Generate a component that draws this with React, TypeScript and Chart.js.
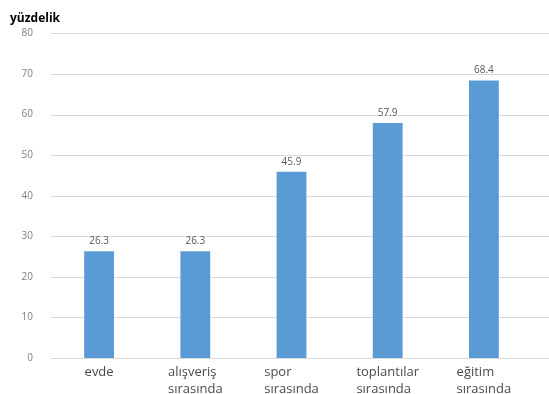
import React, { useEffect, useRef } from "react";
import { Chart, registerables } from "chart.js";

Chart.register(...registerables);

const categories: string[][] = [
  ["evde"],
  ["alışveriş", "sırasında"],
  ["spor", "sırasında"],
  ["toplantılar", "sırasında"],
  ["eğitim", "sırasında"],
];
const values: number[] = [26.3, 26.3, 45.9, 57.9, 68.4];
const yMin = 0;
const yMax = 80;
const yStep = 10;
const yTitle = "yüzdelik";

const FONT = "'Open Sans', 'Liberation Sans', sans-serif";

const gridPlugin = {
  id: "extGrid",
  beforeDatasetsDraw(chart: any) {
    const ys = chart.scales.y;
    const ctx = chart.ctx;
    ctx.save();
    ctx.strokeStyle = "#d9d9d9";
    ctx.lineWidth = 1;
    ys.ticks.forEach((t: any) => {
      const y = Math.round(ys.getPixelForValue(t.value)) + 0.5;
      ctx.beginPath();
      ctx.moveTo(chart.chartArea.left, y);
      ctx.lineTo(chart.width, y);
      ctx.stroke();
    });
    ctx.restore();
  },
};

const labelPlugin = {
  id: "leftLabels",
  afterDraw(chart: any) {
    const xs = chart.scales.x;
    const ctx = chart.ctx;
    ctx.save();
    ctx.font = `13px ${FONT}`;
    ctx.fillStyle = "#4a4a4a";
    ctx.textAlign = "left";
    ctx.textBaseline = "alphabetic";
    categories.forEach((lines, i) => {
      const cx = xs.getPixelForValue(i);
      const w = Math.max(...lines.map((l) => ctx.measureText(l).width));
      const left = cx - w / 2;
      lines.forEach((l, j) => {
        ctx.fillText(l, left, chart.chartArea.bottom + 18 + j * 17);
      });
    });
    ctx.restore();
  },
};

const valuePlugin = {
  id: "valueLabels",
  afterDatasetsDraw(chart: any) {
    const meta = chart.getDatasetMeta(0);
    const ctx = chart.ctx;
    ctx.save();
    ctx.font = `10px ${FONT}`;
    ctx.fillStyle = "#595959";
    ctx.textAlign = "center";
    ctx.textBaseline = "bottom";
    meta.data.forEach((bar: any, i: number) => {
      ctx.fillText(values[i].toFixed(1), bar.x, bar.y - 5);
    });
    ctx.restore();
  },
};

export default function App() {
  const ref = useRef<HTMLCanvasElement | null>(null);
  useEffect(() => {
    if (!ref.current) return;
    const chart = new Chart(ref.current, {
      type: "bar",
      data: {
        labels: categories.map((c) => c.join(" ")),
        datasets: [
          {
            data: values,
            backgroundColor: "#5b9bd5",
            borderWidth: 0,
            categoryPercentage: 1,
            barPercentage: 0.31,
          },
        ],
      },
      options: {
        animation: false,
        responsive: false,
        layout: { padding: { left: 10, right: 17, top: 11, bottom: 0 } },
        plugins: {
          legend: { display: false },
          tooltip: { enabled: false },
          title: {
            display: true,
            text: yTitle,
            align: "start",
            color: "#000000",
            font: { family: FONT, size: 12, weight: "bold" },
            padding: { top: 0, bottom: 8 },
          },
        },
        scales: {
          x: {
            grid: { display: false },
            border: { display: false },
            ticks: {
              color: "transparent",
              font: { family: FONT, size: 12 },
              maxRotation: 0,
              autoSkip: false,
              padding: 6,
              callback: (_v: any, i: number) => categories[i],
            },
            afterFit: (s: any) => {
              s.height = 36;
            },
          },
          y: {
            min: yMin,
            max: yMax,
            grid: { display: false },
            border: { display: false },
            ticks: {
              stepSize: yStep,
              color: "#7f7f7f",
              font: { family: FONT, size: 10 },
              padding: 10,
            },
            afterFit: (s: any) => {
              s.width = 41;
            },
          },
        },
      },
      plugins: [gridPlugin, labelPlugin, valuePlugin],
    });
    return () => chart.destroy();
  }, []);
  return (
    <div style={{ position: "fixed", left: 0, top: 0, width: 549, height: 394, background: "#fff" }}>
      <canvas ref={ref} width={549} height={394} style={{ width: 549, height: 394 }} />
    </div>
  );
}
